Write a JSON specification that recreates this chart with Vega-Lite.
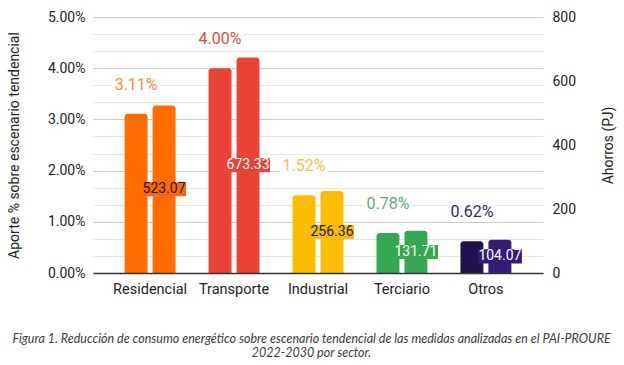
{
  "$schema": "https://vega.github.io/schema/vega-lite/v6.json",
  "width": 450,
  "height": 256,
  "autosize": {"type": "none"},
  "padding": {"left": 93, "top": 17, "right": 81, "bottom": 92},
  "background": "white",
  "config": {"font": "Roboto", "view": {"stroke": null}},
  "title": {
    "text": ["Figura 1. Reducción de consumo energético sobre escenario tendencial de las medidas analizadas en el PAI-PROURE", "2022-2030 por sector."],
    "orient": "bottom",
    "anchor": "middle",
    "frame": "bounds",
    "font": "Lato",
    "fontStyle": "italic",
    "fontWeight": "normal",
    "fontSize": 12.5,
    "lineHeight": 14,
    "color": "#3a3a3a",
    "offset": 37
  },
  "data": {
    "values": [
      {"sector": "Residencial", "serie": "pct", "value": 0.0311},
      {"sector": "Transporte", "serie": "pct", "value": 0.04},
      {"sector": "Industrial", "serie": "pct", "value": 0.0152},
      {"sector": "Terciario", "serie": "pct", "value": 0.0078},
      {"sector": "Otros", "serie": "pct", "value": 0.0062},
      {"sector": "Residencial", "serie": "pj", "value": 523.07},
      {"sector": "Transporte", "serie": "pj", "value": 673.33},
      {"sector": "Industrial", "serie": "pj", "value": 256.36},
      {"sector": "Terciario", "serie": "pj", "value": 131.71},
      {"sector": "Otros", "serie": "pj", "value": 104.07}
    ]
  },
  "encoding": {
    "x": {
      "field": "sector",
      "type": "nominal",
      "sort": ["Residencial", "Transporte", "Industrial", "Terciario", "Otros"],
      "scale": {"paddingInner": 0, "paddingOuter": 0.18},
      "axis": {
        "title": null,
        "labelAngle": 0,
        "labelFont": "Roboto",
        "labelFontSize": 14.5,
        "labelColor": "#222222",
        "ticks": false,
        "domain": true,
        "domainColor": "#333333",
        "domainWidth": 1.5,
        "labelPadding": 9,
        "grid": false,
        "zindex": 1
      }
    },
    "xOffset": {
      "field": "serie",
      "type": "nominal",
      "scale": {"domain": ["pct", "pj"], "paddingInner": 0.18, "paddingOuter": 0.59}
    }
  },
  "layer": [
    {
      "transform": [{"filter": "datum.serie === 'pct'"}],
      "mark": {"type": "bar", "cornerRadiusTopLeft": 3, "cornerRadiusTopRight": 3},
      "encoding": {
        "y": {
          "field": "value",
          "type": "quantitative",
          "stack": null,
          "scale": {"domain": [0, 0.05], "nice": false},
          "axis": {
            "orient": "left",
            "values": [0, 0.0033333, 0.0066667, 0.01, 0.0133333, 0.0166667, 0.02, 0.0233333, 0.0266667, 0.03, 0.0333333, 0.0366667, 0.04, 0.0433333, 0.0466667, 0.05],
            "labelExpr": "abs(datum.value*100 - round(datum.value*100)) < 0.001 ? format(datum.value, '.2%') : ''",
            "labelOverlap": false,
            "grid": true,
            "gridColor": {"condition": {"test": "abs(datum.value*100 - round(datum.value*100)) < 0.001", "value": "#cccccc"}, "value": "#e6e6e6"},
            "domain": false,
            "ticks": false,
            "labelFont": "Roboto",
            "labelFontSize": 14,
            "labelColor": "#222222",
            "labelPadding": 8,
            "title": "Aporte % sobre escenario tendencial",
            "titleFont": "Roboto",
            "titleFontSize": 14,
            "titleFontWeight": "normal",
            "titleColor": "#222222",
            "titlePadding": 26
          }
        },
        "color": {
          "field": "sector",
          "type": "nominal",
          "scale": {"domain": ["Residencial", "Transporte", "Industrial", "Terciario", "Otros"], "range": ["#FF6D01", "#EA4335", "#FBBC04", "#34A853", "#20124D"]},
          "legend": null
        }
      }
    },
    {
      "transform": [{"filter": "datum.serie === 'pct'"}],
      "mark": {"type": "point", "shape": "M-1,-0.36H1V0.36H-1Z", "filled": true, "size": 2304, "fill": "white", "opacity": 1, "strokeWidth": 0, "yOffset": -29},
      "encoding": {
        "y": {"field": "value", "type": "quantitative", "stack": null, "scale": {"domain": [0, 0.05], "nice": false}, "axis": null}
      }
    },
    {
      "transform": [{"filter": "datum.serie === 'pct'"}],
      "mark": {"type": "text", "font": "Roboto", "fontSize": 16, "baseline": "middle", "align": "center", "dy": -29},
      "encoding": {
        "y": {"field": "value", "type": "quantitative", "stack": null, "scale": {"domain": [0, 0.05], "nice": false}, "axis": null},
        "text": {"field": "value", "type": "quantitative", "format": ".2%"},
        "color": {
          "field": "sector",
          "type": "nominal",
          "scale": {"domain": ["Residencial", "Transporte", "Industrial", "Terciario", "Otros"], "range": ["#F38A3A", "#E5483D", "#F6C143", "#5AAE73", "#2F2A68"]},
          "legend": null
        }
      }
    },
    {
      "transform": [{"filter": "datum.serie === 'pj'"}],
      "mark": {"type": "bar", "cornerRadiusTopLeft": 3, "cornerRadiusTopRight": 3},
      "encoding": {
        "y": {
          "field": "value",
          "type": "quantitative",
          "stack": null,
          "scale": {"domain": [0, 800], "nice": false},
          "axis": {
            "orient": "right",
            "values": [0, 200, 400, 600, 800],
            "grid": false,
            "domain": false,
            "ticks": false,
            "labelFont": "Roboto",
            "labelFontSize": 14,
            "labelColor": "#222222",
            "labelPadding": 9,
            "title": "Ahorros (PJ)",
            "titleAngle": 270,
            "titleFont": "Roboto",
            "titleFontSize": 14,
            "titleFontWeight": "normal",
            "titleColor": "#222222",
            "titlePadding": 40
          }
        },
        "color": {
          "field": "sector",
          "type": "nominal",
          "scale": {"domain": ["Residencial", "Transporte", "Industrial", "Terciario", "Otros"], "range": ["#FF6D01", "#EA4335", "#FBBC04", "#34A853", "#351C75"]},
          "legend": null
        }
      }
    },
    {
      "transform": [{"filter": "datum.serie === 'pj'"}],
      "mark": {"type": "point", "shape": "M-1,-0.32H1V0.32H-1Z", "filled": true, "size": 1936, "opacity": 1, "strokeWidth": 0},
      "encoding": {
        "y": {"field": "value", "type": "quantitative", "stack": null, "scale": {"domain": [0, 1600], "nice": false}, "axis": null},
        "color": {
          "field": "sector",
          "type": "nominal",
          "scale": {"domain": ["Residencial", "Transporte", "Industrial", "Terciario", "Otros"], "range": ["#F56A0A", "#E5443A", "#F7BA10", "#34A853", "#351C75"]},
          "legend": null
        }
      }
    },
    {
      "transform": [{"filter": "datum.serie === 'pj'"}],
      "mark": {"type": "text", "font": "Roboto", "fontSize": 14, "baseline": "middle", "align": "center"},
      "encoding": {
        "y": {"field": "value", "type": "quantitative", "stack": null, "scale": {"domain": [0, 1600], "nice": false}, "axis": null},
        "text": {"field": "value", "type": "quantitative", "format": ".2f"},
        "color": {
          "field": "sector",
          "type": "nominal",
          "scale": {"domain": ["Residencial", "Transporte", "Industrial", "Terciario", "Otros"], "range": ["#2A1300", "#FFFFFF", "#222222", "#FFFFFF", "#FFFFFF"]},
          "legend": null
        }
      }
    }
  ],
  "resolve": {"scale": {"y": "independent", "color": "independent"}}
}
